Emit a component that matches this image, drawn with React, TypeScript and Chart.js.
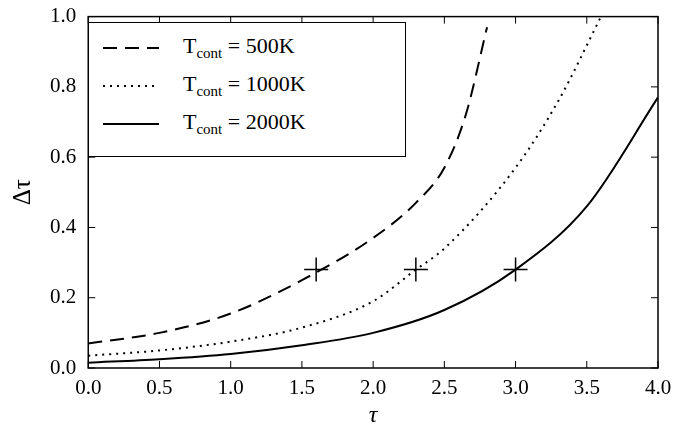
import React, { useEffect, useRef } from "react";
import { Chart, registerables } from "chart.js";
Chart.register(...registerables);

const tauA = [0, 0.5, 1.0, 1.5, 2.0, 2.3, 2.5, 2.65, 2.8];
const d500 = [0.07, 0.1, 0.155, 0.25, 0.37, 0.47, 0.57, 0.72, 0.97];
const tauB = [0, 0.5, 1.0, 1.5, 2.0, 2.3, 2.5, 3.0, 3.3, 3.6];
const d1000 = [0.035, 0.05, 0.075, 0.115, 0.19, 0.28, 0.34, 0.57, 0.76, 1.0];
const tauC = [0, 0.5, 1.0, 1.5, 2.0, 2.5, 3.0, 3.5, 4.0];
const d2000 = [0.015, 0.025, 0.04, 0.065, 0.1, 0.165, 0.28, 0.46, 0.77];
const markTau = [1.6, 2.3, 3.0];
const markDelta = [0.28, 0.28, 0.28];

const F = "'Liberation Serif', 'DejaVu Serif', serif";

const ticksPlugin = {
  id: "inticks",
  afterDraw(c: any) {
    const { ctx, chartArea: a, scales } = c;
    ctx.save();
    ctx.strokeStyle = "#000";
    ctx.lineWidth = 1;
    scales.x.ticks.forEach((t: any) => {
      const x = scales.x.getPixelForValue(t.value);
      ctx.beginPath(); ctx.moveTo(x, a.bottom); ctx.lineTo(x, a.bottom - 7);
      ctx.moveTo(x, a.top); ctx.lineTo(x, a.top + 7); ctx.stroke();
    });
    scales.y.ticks.forEach((t: any) => {
      const y = scales.y.getPixelForValue(t.value);
      ctx.beginPath(); ctx.moveTo(a.left, y); ctx.lineTo(a.left + 7, y);
      ctx.moveTo(a.right, y); ctx.lineTo(a.right - 7, y); ctx.stroke();
    });
    ctx.lineWidth = 1.5;
    ctx.strokeRect(a.left, a.top, a.right - a.left, a.bottom - a.top);
    ctx.restore();
  },
};

export default function App() {
  const ref = useRef<HTMLCanvasElement>(null);
  useEffect(() => {
    const line = (xs: number[], ys: number[], dash: number[]) => ({
      type: "line" as const,
      data: xs.map((x, i) => ({ x, y: ys[i] })),
      borderColor: "#000", borderWidth: 2, borderDash: dash,
      pointRadius: 0, cubicInterpolationMode: "monotone" as const, fill: false,
    });
    const ch = new Chart(ref.current!, {
      type: "scatter",
      data: {
        datasets: [
          line(tauA, d500, [14, 8]),
          line(tauB, d1000, [2, 5]),
          line(tauC, d2000, []),
          {
            type: "scatter",
            data: markTau.map((x, i) => ({ x, y: markDelta[i] })),
            pointStyle: "cross", pointRadius: 12, borderColor: "#000", borderWidth: 1.5,
          } as any,
        ],
      },
      options: {
        animation: false, responsive: false, clip: true as any,
        layout: { padding: { right: 16, top: 14, bottom: 4 } },
        plugins: { legend: { display: false }, tooltip: { enabled: false } },
        scales: {
          x: {
            min: 0, max: 4, grid: { display: false }, border: { display: false },
            ticks: { stepSize: 0.5, color: "#000", font: { family: F, size: 21 }, callback: (v: any) => Number(v).toFixed(1), maxRotation: 0, padding: 0 },
            title: { display: true, text: "τ", color: "#000", font: { family: F, size: 24, style: "italic" }, padding: 0 },
          },
          y: {
            min: 0, max: 1, grid: { display: false }, border: { display: false },
            ticks: { stepSize: 0.2, color: "#000", font: { family: F, size: 21 }, callback: (v: any) => Number(v).toFixed(1), padding: 4 },
            title: { display: true, text: "Δτ", color: "#000", font: { family: F, size: 25 }, padding: 8 },
          },
        },
      },
      plugins: [ticksPlugin],
    });
    return () => ch.destroy();
  }, []);
  const row = (dash: string, label: string) => (
    <div style={{ display: "flex", alignItems: "center", height: 38 }}>
      <svg width="60" height="10" style={{ marginRight: 22 }}>
        <line x1="2" y1="5" x2="58" y2="5" stroke="#000" strokeWidth="2" strokeDasharray={dash} />
      </svg>
      <span>T<sub style={{ fontSize: 15 }}>cont</sub> = {label}</span>
    </div>
  );
  return (
    <div style={{ position: "fixed", left: 0, top: 0, width: 674, height: 434, background: "#fff" }}>
      <canvas ref={ref} width={674} height={434} />
      <div style={{ position: "absolute", left: 88, top: 22, width: 318, height: 135, border: "1.5px solid #000", background: "#fff", boxSizing: "border-box", padding: "6px 12px", fontFamily: F, fontSize: 22 }}>
        {row("14 8", "500K")}
        {row("2 5", "1000K")}
        {row("", "2000K")}
      </div>
    </div>
  );
}
